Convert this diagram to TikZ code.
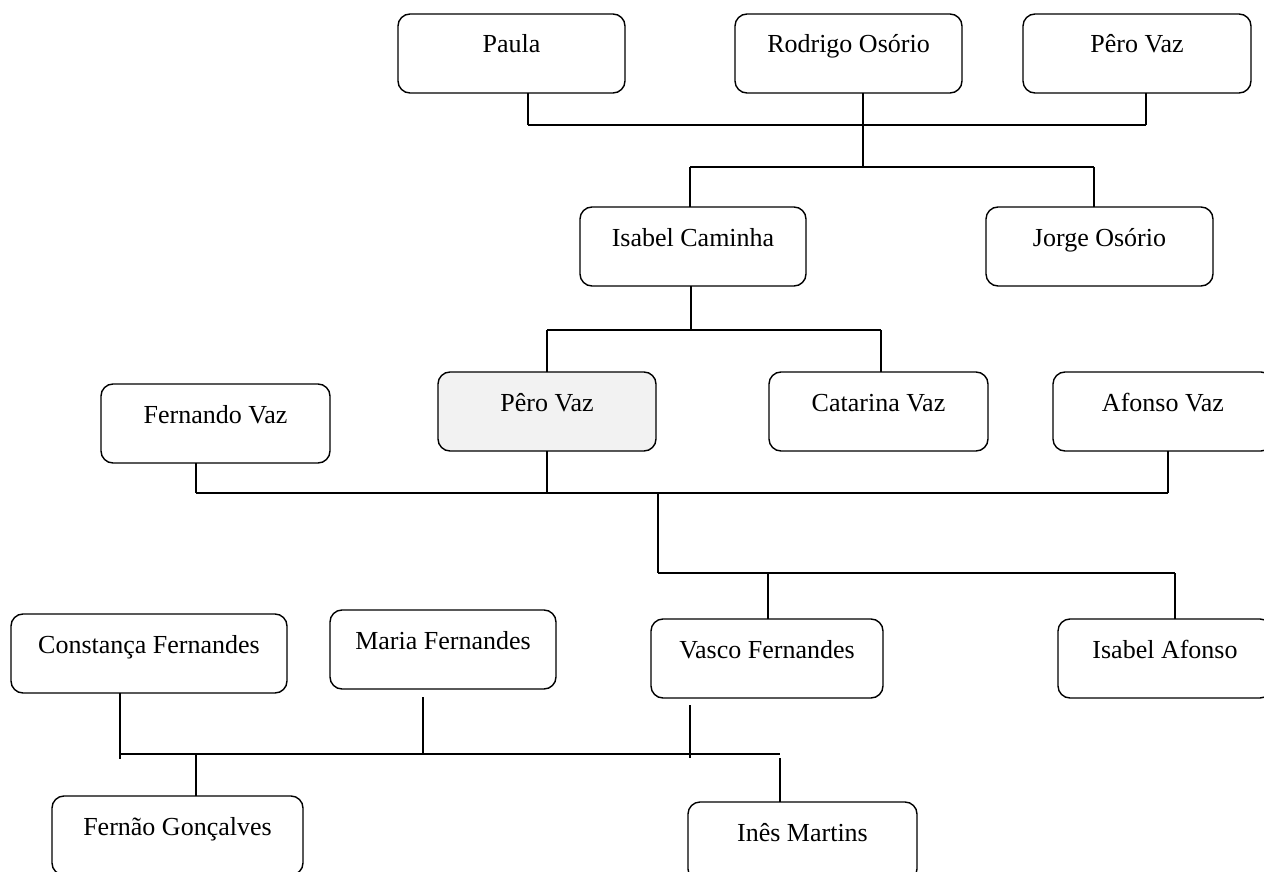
\documentclass[tikz,border=0pt]{standalone}
\usepackage{fontspec}
\setmainfont{Liberation Serif}
\begin{document}
\begin{tikzpicture}[x=1pt,y=-1pt,
  person/.style={draw, line width=1.4pt, rounded corners=12pt, anchor=north west,
    inner sep=0pt, outer sep=0pt, text height=39pt, text depth=40pt, fill=white,
    font=\fontsize{26}{30}\selectfont},
  me/.style={person, fill=gray!10},
  conn/.style={line width=1.3pt},
  bar/.style={line width=1.8pt}]
\useasboundingbox (0,0) rectangle (1264,872);
% generation 1
\node[person, minimum width=227pt] (paula) at (398,14) {Paula};
\node[person, minimum width=227pt] (rodrigo) at (735,14) {Rodrigo Osório};
\node[person, minimum width=228pt] (pero1) at (1023,14) {Pêro Vaz};
% generation 2
\node[person, minimum width=226pt] (isabelc) at (580,207) {Isabel Caminha};
\node[person, minimum width=227pt] (jorge) at (986,207) {Jorge Osório};
% generation 3
\node[person, minimum width=229pt] (fernando) at (101,384) {Fernando Vaz};
\node[me, minimum width=218pt] (pero2) at (438,372) {Pêro Vaz};
\node[person, minimum width=219pt] (catarina) at (769,372) {Catarina Vaz};
\node[person, minimum width=220pt] (afonso) at (1053,372) {Afonso Vaz};
% generation 4
\node[person, minimum width=276pt] (constanca) at (11,614) {Constança Fernandes};
\node[person, minimum width=226pt] (maria) at (330,610) {Maria Fernandes};
\node[person, minimum width=232pt] (vasco) at (651,619) {Vasco Fernandes};
\node[person, minimum width=214pt] (isabela) at (1058,619) {Isabel Afonso};
% generation 5
\node[person, minimum width=251pt] (fernao) at (52,796) {Fernão Gonçalves};
\node[person, minimum width=229pt] (ines) at (688,802) {Inês Martins};

% junctions
\coordinate (j1) at (863,125);
\coordinate (j2) at (863,167);
\coordinate (j3) at (691,330);
\coordinate (j4) at (658,493);
\coordinate (j5) at (658,573);
\coordinate (j6) at (120,754);
\coordinate (j7) at (780,754);

% top family
\draw[conn] ([xshift=16.5pt]paula.south) -- ([xshift=16.5pt]paula.south |- j1);
\draw[conn] ([xshift=9pt]pero1.south) -- ([xshift=9pt]pero1.south |- j1);
\draw[bar] ([xshift=16.5pt]paula.south |- j1) -- ([xshift=9pt]pero1.south |- j1);
\draw[conn] (rodrigo.south -| j2) -- (j2);
\draw[bar] ([xshift=-3pt]isabelc.north |- j2) -- ([xshift=-5.5pt]jorge.north |- j2);
\draw[conn] ([xshift=-3pt]isabelc.north) -- ([xshift=-3pt]isabelc.north |- j2);
\draw[conn] ([xshift=-5.5pt]jorge.north) -- ([xshift=-5.5pt]jorge.north |- j2);

% Isabel Caminha's children
\draw[conn] (isabelc.south -| j3) -- (j3);
\draw[bar] (pero2.north |- j3) -- ([xshift=2.5pt]catarina.north |- j3);
\draw[conn] (pero2.north) -- (pero2.north |- j3);
\draw[conn] ([xshift=2.5pt]catarina.north) -- ([xshift=2.5pt]catarina.north |- j3);

% Pêro Vaz's family
\draw[conn] ([xshift=-19.5pt]fernando.south) -- ([xshift=-19.5pt]fernando.south |- j4);
\draw[conn] (pero2.south) -- (pero2.south |- j4);
\draw[conn] ([xshift=5pt]afonso.south) -- ([xshift=5pt]afonso.south |- j4);
\draw[bar] ([xshift=-19.5pt]fernando.south |- j4) -- ([xshift=5pt]afonso.south |- j4);
\draw[conn] (j4) -- (j5);
\draw[bar] (j5) -- ([xshift=10pt]isabela.north |- j5);
\draw[conn] ([xshift=1pt]vasco.north) -- ([xshift=1pt]vasco.north |- j5);
\draw[conn] ([xshift=10pt]isabela.north) -- ([xshift=10pt]isabela.north |- j5);

% Vasco Fernandes' family
\draw[conn] (constanca.south -| j6) -- ++(0,66);
\draw[conn] ([xshift=-20pt,yshift=-8pt]maria.south) -- ([xshift=-20pt]maria.south |- j6);
\draw[conn] ([xshift=-77pt,yshift=-7pt]vasco.south) -- ++(0,53);
\draw[bar] (j6) -- (j7);
\draw[conn] ([xshift=18.5pt]fernao.north) -- ([xshift=18.5pt]fernao.north |- j6);
\draw[conn] (ines.north -| j7) -- ++(0,-44);
\end{tikzpicture}
\end{document}
